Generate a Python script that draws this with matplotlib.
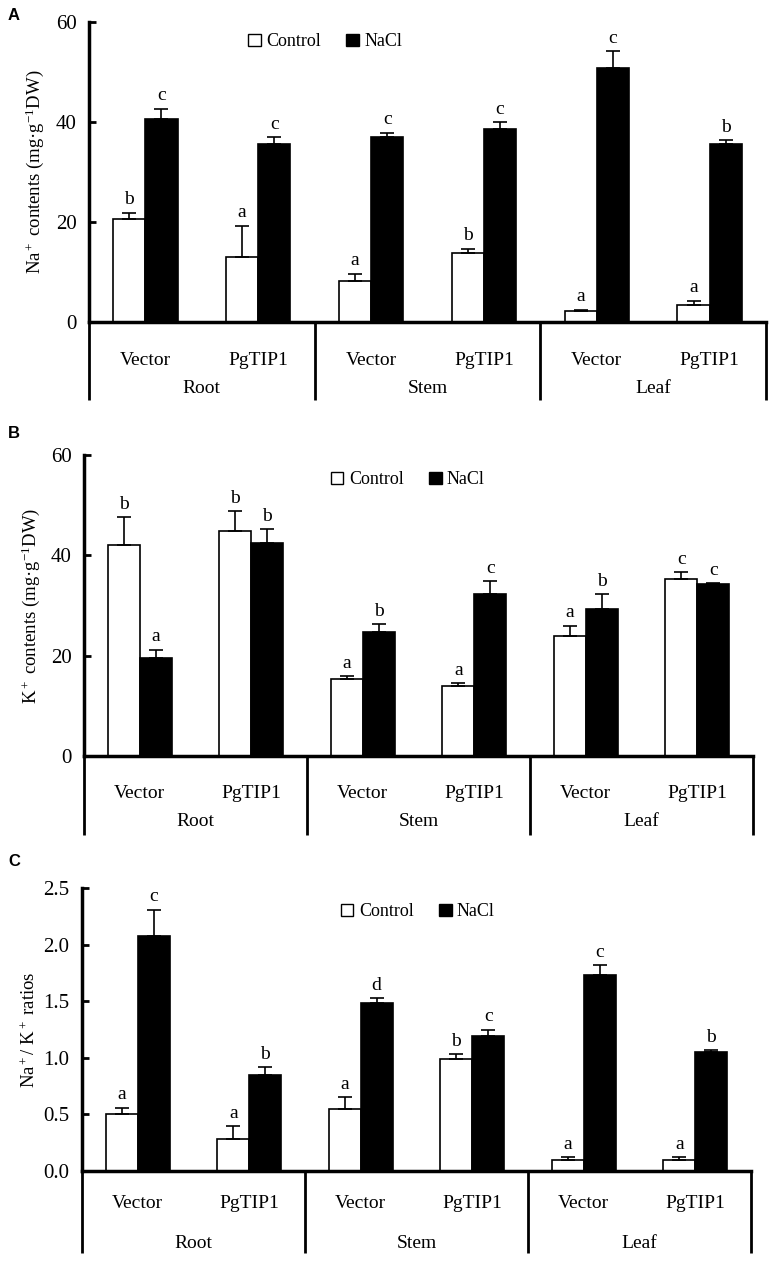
import matplotlib
matplotlib.use("Agg")
import matplotlib.pyplot as plt
from matplotlib.patches import Patch
import numpy as np

plt.rcParams['font.family'] = ['Liberation Serif', 'DejaVu Serif']
plt.rcParams['mathtext.fontset'] = 'custom'
plt.rcParams['mathtext.rm'] = 'Liberation Serif'
plt.rcParams['mathtext.it'] = 'Liberation Serif:italic'

# data
lines_ = ['Vector', 'PgTIP1'] * 3
tissues = ['Root', 'Stem', 'Leaf']

na_ctrl = [20.6, 13.0, 8.3, 13.9, 2.2, 3.4]
na_ctrl_se = [1.3, 6.3, 1.4, 0.8, 0.3, 0.9]
na_nacl = [40.7, 35.7, 37.1, 38.6, 50.9, 35.7]
na_nacl_se = [2.0, 1.3, 0.8, 1.4, 3.3, 0.7]
na_ctrl_let = ['b', 'a', 'a', 'b', 'a', 'a']
na_nacl_let = ['c', 'c', 'c', 'c', 'c', 'b']

k_ctrl = [42.1, 44.9, 15.3, 14.0, 23.9, 35.3]
k_ctrl_se = [5.6, 4.0, 0.7, 0.6, 2.1, 1.4]
k_nacl = [19.5, 42.5, 24.8, 32.3, 29.3, 34.2]
k_nacl_se = [1.7, 2.7, 1.5, 2.6, 2.9, 0.2]
k_ctrl_let = ['b', 'b', 'a', 'a', 'a', 'c']
k_nacl_let = ['a', 'b', 'b', 'c', 'b', 'c']

r_ctrl = [0.50, 0.285, 0.55, 0.99, 0.10, 0.10]
r_ctrl_se = [0.06, 0.115, 0.10, 0.04, 0.02, 0.02]
r_nacl = [2.08, 0.845, 1.48, 1.19, 1.73, 1.05]
r_nacl_se = [0.23, 0.075, 0.05, 0.06, 0.09, 0.02]
r_ctrl_let = ['a', 'a', 'a', 'b', 'a', 'a']
r_nacl_let = ['c', 'b', 'd', 'c', 'c', 'b']

W, H = 775, 1262
fig = plt.figure(figsize=(W / 100, H / 100), dpi=100)


def px_axes(left, right, top, bottom):
    return fig.add_axes([left / W, 1 - bottom / H, (right - left) / W, (bottom - top) / H])


def panel(ax, ctrl, ctrl_se, nacl, nacl_se, ctrl_let, nacl_let, ymax, yticks, ytl,
          ylabel, ext, row1, row2, leg_xy, ylab_x):
    x = np.arange(6)
    w = 0.285
    ax.bar(x - w / 2, ctrl, w, color='white', edgecolor='black', linewidth=1.2)
    ax.bar(x + w / 2, nacl, w, color='black', edgecolor='black', linewidth=1.2)
    ax.errorbar(x - w / 2, ctrl, yerr=[np.zeros(6), ctrl_se], fmt='none',
                ecolor='black', elinewidth=1.2, capsize=5, capthick=1.2)
    ax.errorbar(x + w / 2, nacl, yerr=[np.zeros(6), nacl_se], fmt='none',
                ecolor='black', elinewidth=1.2, capsize=5, capthick=1.2)
    for i in range(6):
        ax.annotate(ctrl_let[i], (x[i] - w / 2, ctrl[i] + ctrl_se[i]), xytext=(0, 3),
                    textcoords='offset points', ha='center', va='bottom', fontsize=14)
        ax.annotate(nacl_let[i], (x[i] + w / 2, nacl[i] + nacl_se[i]), xytext=(0, 3),
                    textcoords='offset points', ha='center', va='bottom', fontsize=14)

    ax.set_xlim(-0.5, 5.5)
    ax.set_ylim(0, ymax)
    ax.set_yticks(yticks)
    ax.set_yticklabels(ytl, fontsize=15)
    ax.set_xticks([])
    for s in ['top', 'right']:
        ax.spines[s].set_visible(False)
    ax.spines['left'].set_linewidth(2.5)
    ax.spines['bottom'].set_linewidth(2.5)
    ax.tick_params(axis='y', direction='in', length=5, width=2, pad=9)

    tr = ax.get_xaxis_transform()
    for xv in [-0.5, 1.5, 3.5, 5.5]:
        ax.plot([xv, xv], [0, -ext], color='black', lw=2, transform=tr, clip_on=False,
                solid_capstyle='butt')
    for i in range(6):
        ax.text(x[i], -row1, lines_[i], transform=tr, ha='center', va='center', fontsize=14)
    for j in range(3):
        ax.text(2 * j + 0.5, -row2, tissues[j], transform=tr, ha='center', va='center',
                fontsize=14)

    handles = [Patch(facecolor='white', edgecolor='black', linewidth=1),
               Patch(facecolor='black', edgecolor='black')]
    ax.legend(handles, ['Control', 'NaCl'], loc='center', bbox_to_anchor=leg_xy, ncol=2,
              frameon=False, fontsize=13, handlelength=0.7, handleheight=0.7,
              handletextpad=0.3, columnspacing=1.4)
    ax.set_ylabel(ylabel, fontsize=13.5)
    ax.yaxis.set_label_coords(ylab_x, 0.5)


# A
axA = px_axes(89, 766, 22, 322)
panel(axA, na_ctrl, na_ctrl_se, na_nacl, na_nacl_se, na_ctrl_let, na_nacl_let,
      60, [0, 20, 40, 60], ['0', '20', '40', '60'],
      'Na$^+$ contents (mg·g$^{-1}$DW)', 78 / 300, 38 / 300, 66 / 300, (0.349, 0.934),
      -0.064)

# B
axB = px_axes(84, 753, 455, 756)
panel(axB, k_ctrl, k_ctrl_se, k_nacl, k_nacl_se, k_ctrl_let, k_nacl_let,
      60, [0, 20, 40, 60], ['0', '20', '40', '60'],
      'K$^+$ contents (mg·g$^{-1}$DW)', 79 / 301, 37 / 301, 66 / 301, (0.484, 0.917),
      -0.063)

# C
axC = px_axes(82, 751, 888, 1171)
panel(axC, r_ctrl, r_ctrl_se, r_nacl, r_nacl_se, r_ctrl_let, r_nacl_let,
      2.5, [0, 0.5, 1.0, 1.5, 2.0, 2.5], ['0.0', '0.5', '1.0', '1.5', '2.0', '2.5'],
      'Na$^+$/ K$^+$ ratios', 82 / 283, 33 / 283, 72 / 283, (0.502, 0.916),
      -0.064)

for lab, ypx in [('A', 15), ('B', 433), ('C', 862)]:
    fig.text(8 / W, 1 - ypx / H, lab, fontsize=12, fontweight='bold',
             family='Liberation Sans', ha='left', va='center')

fig.savefig('out.png', dpi=100)
